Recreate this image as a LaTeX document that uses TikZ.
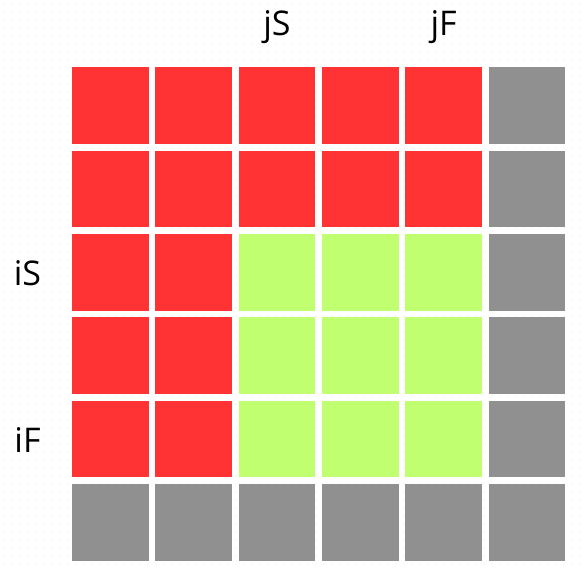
\documentclass[tikz,border=0pt]{standalone}
\usepackage{fontspec}
\setmainfont{Open Sans}
\usetikzlibrary{positioning}
\definecolor{cellred}{HTML}{FF3333}
\definecolor{cellgreen}{HTML}{C0FF70}
\definecolor{cellgray}{HTML}{909090}
\definecolor{dotgray}{HTML}{E6E6E6}
\tikzset{
  cell/.style = {minimum size = 76.7pt, inner sep = 0pt, outer sep = 0pt},
  lbl/.style = {font = \fontsize{34}{40}\selectfont, inner sep = 0pt, anchor = base}
}
\begin{document}
\begin{tikzpicture}[x = 1pt, y = -1pt]
\useasboundingbox (0,0) rectangle (586,568);
% faint dotted paper
\foreach \yy in {4,12,...,564} {
  \foreach \xx in {4,12,...,582} {
    \fill [dotgray] (\xx,\yy) circle (0.7pt);
  }
}
% the 6x6 grid of cells
\foreach \r in {0,...,5} {
  \foreach \c in {0,...,5} {
    \pgfmathsetmacro{\kind}{ifthenelse(\r==5 || \c==5, 2, ifthenelse(\r>=2 && \c>=2, 1, 0))}
    \ifcase\kind\relax
      \def\col{cellred}\or\def\col{cellgreen}\or\def\col{cellgray}\fi
    \node [cell, fill = \col] (c-\r-\c) at ({110.35 + 83.33*\c}, {105.65 + 83.33*\r}) {};
  }
}
% labels
\node [lbl] (jS) at (c-0-2 |- 0,35) {jS};
\node [lbl] (jF) at (c-0-4 |- 0,35) {jF};
\node [lbl] (iS) at (27.5,285) {iS};
\node [lbl] (iF) at (27.5,452) {iF};
\end{tikzpicture}
\end{document}
